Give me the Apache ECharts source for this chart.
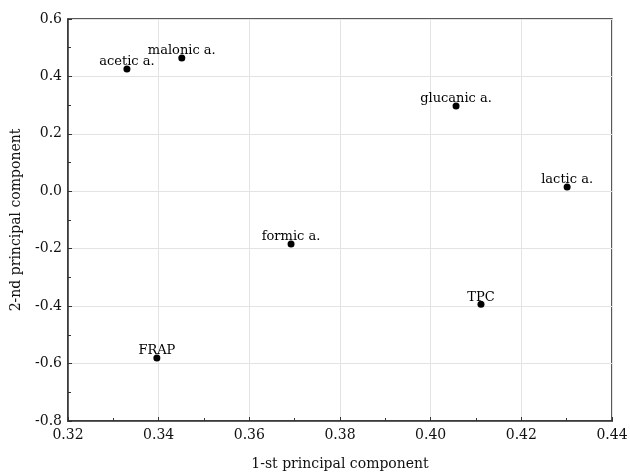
<!DOCTYPE html>
<html>
<head>
<meta charset="utf-8">
<script src="https://cdn.jsdelivr.net/npm/echarts@6/dist/echarts.min.js"></script>
<style>
  html, body { margin: 0; padding: 0; background: #fff; }
  #chart { width: 630px; height: 474px; }
</style>
</head>
<body>
<div id="chart"></div>
<script>
// variables in the PCA loading plot
const names = ['acetic a.', 'malonic a.', 'glucanic a.', 'lactic a.', 'formic a.', 'TPC', 'FRAP']
const pc1 = [0.3330, 0.3451, 0.4056, 0.4301, 0.3692, 0.4111, 0.3396]
const pc2 = [0.426, 0.464, 0.297, 0.015, -0.184, -0.393, -0.581]

const serif = 'DejaVu Serif'
const chart = echarts.init(document.getElementById('chart'))

const points = names.map((n, i) => ({ name: n, value: [pc1[i], pc2[i]] }))

const option = {
  animation: false,
  grid: { left: 68, right: 18, top: 19, bottom: 53, containLabel: false, outerBoundsMode: 'none' },
  xAxis: {
    type: 'value',
    min: 0.32,
    max: 0.44,
    interval: 0.02,
    name: '1-st principal component',
    nameLocation: 'middle',
    nameGap: 36,
    nameTextStyle: { fontFamily: serif, fontSize: 14, color: '#111' },
    axisLine: { onZero: false, lineStyle: { color: '#333', width: 1.5 } },
    axisTick: { inside: true, length: 4, lineStyle: { color: '#333' } },
    minorTick: { show: true, splitNumber: 2, length: 3, lineStyle: { color: '#333' } },
    axisLabel: {
      fontFamily: serif, fontSize: 14, color: '#111', margin: 7,
      formatter: v => v.toFixed(2)
    },
    splitLine: { show: true, lineStyle: { color: '#e3e3e3' } }
  },
  yAxis: {
    type: 'value',
    min: -0.8,
    max: 0.6,
    interval: 0.2,
    name: '2-nd principal component',
    nameLocation: 'middle',
    nameGap: 45,
    nameTextStyle: { fontFamily: serif, fontSize: 14, color: '#111' },
    axisLine: { onZero: false, lineStyle: { color: '#333', width: 1.5 } },
    axisTick: { inside: true, length: 4, lineStyle: { color: '#333' } },
    minorTick: { show: true, splitNumber: 2, length: 3, lineStyle: { color: '#333' } },
    axisLabel: {
      fontFamily: serif, fontSize: 14, color: '#111', margin: 6,
      formatter: v => v.toFixed(1)
    },
    splitLine: { show: true, lineStyle: { color: '#e3e3e3' } }
  },
  series: [{
    type: 'scatter',
    data: points,
    symbolSize: 7,
    itemStyle: { color: '#000', opacity: 1 },
    label: {
      show: true,
      position: 'top',
      distance: -3,
      formatter: p => p.name,
      fontFamily: serif,
      fontSize: 13,
      color: '#000'
    }
  }],
  graphic: [{
    type: 'rect',
    shape: { x: 68, y: 19, width: 544, height: 402 },
    style: { fill: 'none', stroke: '#222', lineWidth: 1.5 },
    silent: true
  }]
}
chart.setOption(option)
</script>
</body>
</html>
